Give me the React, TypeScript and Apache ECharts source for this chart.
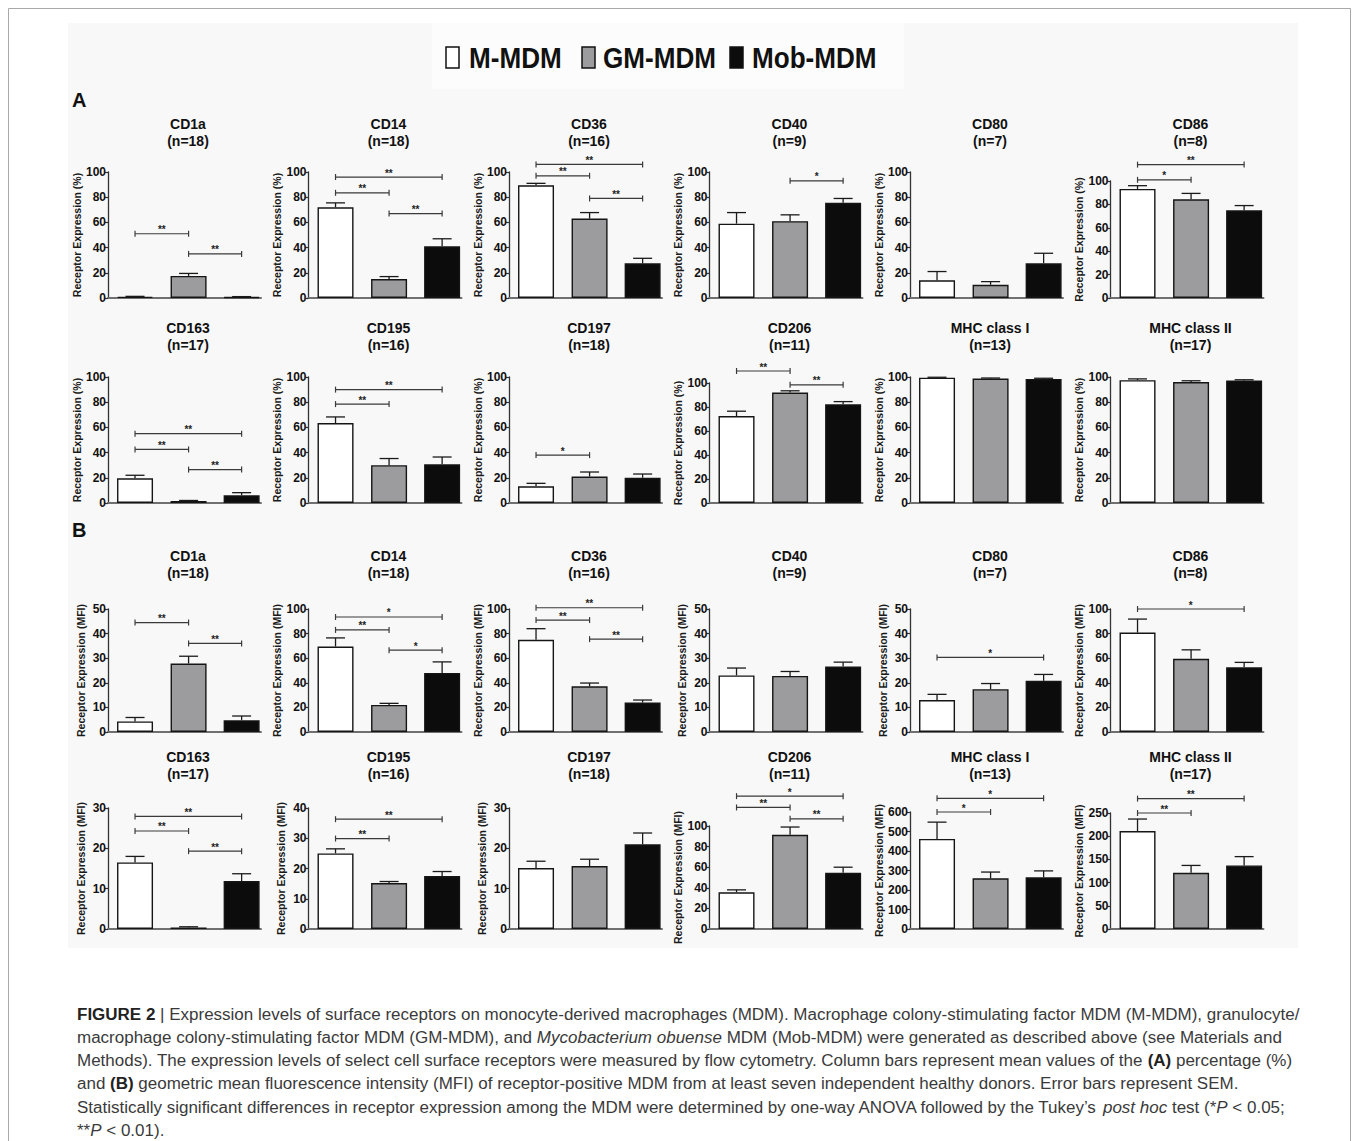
import React, { useEffect, useRef } from "react";
import * as echarts from "echarts";

// ---------------- data ----------------
const GROUPS = ["M-MDM", "GM-MDM", "Mob-MDM"];
const RECEPTORS = ["CD1a", "CD14", "CD36", "CD40", "CD80", "CD86", "CD163", "CD195", "CD197", "CD206", "MHC class I", "MHC class II"];
const DONORS = [18, 18, 16, 9, 7, 8, 17, 16, 18, 11, 13, 17];

// (A) percentage of receptor-positive MDM
const PCT_MEAN = [
  [1.0, 17.5, 0.8],
  [72, 15, 41],
  [89.5, 63, 27.5],
  [59, 61, 75.5],
  [14, 10.5, 27.5],
  [93.2, 84.4, 75],
  [19.6, 1.5, 6.2],
  [63.5, 30, 30.7],
  [13.2, 21, 20],
  [72.5, 92, 82.3],
  [99.5, 98.8, 98.5],
  [97.5, 96, 97.3],
];
const PCT_SEM = [
  [0.3, 2.0, 0.3],
  [3.5, 2, 6],
  [1.5, 4.8, 4],
  [8.8, 5, 3.5],
  [7, 2.5, 8],
  [2.8, 5, 4],
  [2.4, 0.5, 2],
  [4.8, 5.3, 5.8],
  [2.4, 3.6, 3],
  [4, 1.5, 2.2],
  [0.3, 0.4, 0.5],
  [1, 1, 0.5],
];
const PCT_MAX = [100, 100, 100, 100, 100, 100, 100, 100, 100, 100, 100, 100];
const PCT_STEP = [20, 20, 20, 20, 20, 20, 20, 20, 20, 20, 20, 20];

// (B) geometric MFI
const MFI_MEAN = [
  [4.3, 27.8, 4.8],
  [69.5, 22, 48],
  [75, 37.2, 24],
  [23, 22.8, 26.6],
  [13, 17.4, 20.8],
  [80.8, 59.5, 52.6],
  [16.5, 0.4, 11.9],
  [25, 15.2, 17.5],
  [15.1, 15.6, 21],
  [35.7, 91.5, 54.5],
  [462, 260, 265],
  [211, 121, 137],
];
const MFI_SEM = [
  [1.6, 3, 1.7],
  [7, 1.3, 9],
  [9, 2.6, 2],
  [3, 1.8, 1.8],
  [2.3, 2.3, 2.6],
  [11, 7.3, 4],
  [1.5, 0.15, 1.8],
  [1.5, 0.5, 1.5],
  [1.7, 1.7, 2.8],
  [2.3, 7.5, 5.5],
  [86, 32, 33],
  [26, 16, 19],
];
const MFI_MAX = [50, 100, 100, 50, 50, 100, 30, 40, 30, 100, 600, 250];
const MFI_STEP = [10, 20, 20, 10, 10, 20, 10, 10, 10, 20, 100, 50];

// significance brackets: [fromGroup, toGroup, level (axis units), label]
const PCT_SIG: Array<Array<[number, number, number, string]>> = [
  [[0, 1, 51, "**"], [1, 2, 35, "**"]],
  [[0, 2, 96, "**"], [0, 1, 83.5, "**"], [1, 2, 67, "**"]],
  [[0, 2, 106, "**"], [0, 1, 97, "**"], [1, 2, 79, "**"]],
  [[1, 2, 93, "*"]],
  [],
  [[0, 2, 114, "**"], [0, 1, 101, "*"]],
  [[0, 2, 55, "**"], [0, 1, 42.5, "**"], [1, 2, 26.5, "**"]],
  [[0, 2, 90, "**"], [0, 1, 78.5, "**"]],
  [[0, 1, 38, "*"]],
  [[0, 1, 110, "**"], [1, 2, 98.5, "**"]],
  [],
  [],
];
const MFI_SIG: Array<Array<[number, number, number, string]>> = [
  [[0, 1, 44.5, "**"], [1, 2, 36, "**"]],
  [[0, 2, 93.5, "*"], [0, 1, 83, "**"], [1, 2, 66.5, "*"]],
  [[0, 2, 101, "**"], [0, 1, 91, "**"], [1, 2, 75.5, "**"]],
  [],
  [[0, 2, 30.3, "*"]],
  [[0, 2, 100, "*"]],
  [[0, 2, 27.9, "**"], [0, 1, 24.3, "**"], [1, 2, 19.3, "**"]],
  [[0, 2, 36.3, "**"], [0, 1, 29.9, "**"]],
  [],
  [[0, 2, 129, "*"], [0, 1, 118, "**"], [1, 2, 107, "**"]],
  [[0, 2, 670, "*"], [0, 1, 600, "*"]],
  [[0, 2, 281, "**"], [0, 1, 250, "**"]],
];

// ---------------- layout / style ----------------
const FONT = "'Liberation Sans', Arial, Helvetica, sans-serif";
const GROUP_COLORS = ["#ffffff", "#9c9c9e", "#0c0c0c"];
const POS = [0.53, 1.58, 2.62];
const COL_X0 = 108;
const COL_PITCH = 200.5;
const PLOT_W = 153;
const ROWS = [
  { bottom: 298, height: 126, titleY: 124 },
  { bottom: 503, height: 126, titleY: 328 },
  { bottom: 732, height: 123, titleY: 556 },
  { bottom: 929, height: 121, titleY: 757 },
];
const HEIGHT_OVERRIDE: Record<string, number> = { "0-5": 117, "1-3": 120, "3-3": 103, "3-4": 117, "3-5": 116 };

type Seg = [string, "n" | "b" | "i"];
const CAPTION: Seg[][] = [
  [["FIGURE 2", "b"], [" | Expression levels of surface receptors on monocyte-derived macrophages (MDM). Macrophage colony-stimulating factor MDM (M-MDM), granulocyte/", "n"]],
  [["macrophage colony-stimulating factor MDM (GM-MDM), and ", "n"], ["Mycobacterium obuense", "i"], [" MDM (Mob-MDM) were generated as described above (see Materials and", "n"]],
  [["Methods). The expression levels of select cell surface receptors were measured by flow cytometry. Column bars represent mean values of the ", "n"], ["(A)", "b"], [" percentage (%)", "n"]],
  [["and ", "n"], ["(B)", "b"], [" geometric mean fluorescence intensity (MFI) of receptor-positive MDM from at least seven independent healthy donors. Error bars represent SEM.", "n"]],
  [["Statistically significant differences in receptor expression among the MDM were determined by one-way ANOVA followed by the Tukey\u2019s ", "n"], ["post hoc", "i"], [" test (*", "n"], ["P", "i"], [" < 0.05;", "n"]],
  [["**", "n"], ["P", "i"], [" < 0.01).", "n"]],
];
const CAP_SIZE = 16;

function measureLine(line: Seg[]): number {
  const ctx = document.createElement("canvas").getContext("2d");
  if (!ctx) return 1000;
  let w = 0;
  for (const [t, s] of line) {
    ctx.font = `${s === "i" ? "italic " : ""}${s === "b" ? "bold " : ""}${CAP_SIZE}px ${FONT}`;
    w += ctx.measureText(t).width;
  }
  return w;
}

function txt(extra: any) {
  return { align: "left", verticalAlign: "middle", textAlign: "left", textVerticalAlign: "middle", ...extra };
}

function buildOption() {
  const grid: any[] = [];
  const xAxis: any[] = [];
  const yAxis: any[] = [];
  const series: any[] = [];
  const graphic: any[] = [];

  for (let r = 0; r < 4; r++) {
    const isPct = r < 2;
    for (let c = 0; c < 6; c++) {
      const p = (r % 2) * 6 + c;
      const k = r * 6 + c;
      const row = ROWS[r];
      const h = HEIGHT_OVERRIDE[`${r}-${c}`] ?? row.height;
      const left = COL_X0 + c * COL_PITCH;
      const means = isPct ? PCT_MEAN[p] : MFI_MEAN[p];
      const sems = isPct ? PCT_SEM[p] : MFI_SEM[p];
      const sig = isPct ? PCT_SIG[p] : MFI_SIG[p];
      grid.push({ left, top: row.bottom - h, width: PLOT_W, height: h });
      xAxis.push({
        gridIndex: k, type: "value", min: 0, max: 3,
        axisLine: { show: true, lineStyle: { color: "#707070", width: 2 } },
        axisTick: { show: false }, axisLabel: { show: false }, splitLine: { show: false },
      });
      yAxis.push({
        gridIndex: k, type: "value", min: 0,
        max: isPct ? PCT_MAX[p] : MFI_MAX[p],
        interval: isPct ? PCT_STEP[p] : MFI_STEP[p],
        axisLine: { show: true, lineStyle: { color: "#333", width: 1.3 } },
        axisTick: { show: true, length: 3, lineStyle: { color: "#333", width: 1.2 } },
        axisLabel: { fontSize: 12, fontWeight: "bold", color: "#111", margin: 2, fontFamily: FONT },
        splitLine: { show: false },
        name: isPct ? "Receptor Expression (%)" : "Receptor Expression (MFI)",
        nameLocation: "middle", nameGap: 22,
        nameTextStyle: { fontSize: 10.5, fontWeight: "bold", color: "#1a1a1a", fontFamily: FONT },
      });
      series.push({
        type: "bar", xAxisIndex: k, yAxisIndex: k, barWidth: 36, silent: true,
        data: means.map((v, g) => ({
          value: [POS[g], v],
          itemStyle: { color: GROUP_COLORS[g], borderColor: "#151515", borderWidth: 1.4 },
        })),
      });
      series.push({
        type: "custom", xAxisIndex: k, yAxisIndex: k, silent: true, z: 3,
        encode: { x: 0, y: 1 },
        data: means.map((v, g) => [POS[g], v, sems[g]]),
        renderItem: (params: any, api: any) => {
          const x = api.value(0), m = api.value(1), s = api.value(2);
          const a = api.coord([x, m]);
          const b = api.coord([x, m + s]);
          const st = { stroke: "#1a1a1a", lineWidth: 1.3 };
          return {
            type: "group",
            children: [
              { type: "line", shape: { x1: a[0], y1: a[1], x2: b[0], y2: b[1] }, style: st },
              { type: "line", shape: { x1: b[0] - 9.5, y1: b[1], x2: b[0] + 9.5, y2: b[1] }, style: st },
            ],
          };
        },
      });
      if (sig.length) {
        series.push({
          type: "custom", xAxisIndex: k, yAxisIndex: k, silent: true, z: 4, clip: false,
          encode: { x: [0, 1], y: 2 },
          data: sig.map((s) => [POS[s[0]], POS[s[1]], s[2]]),
          renderItem: (params: any, api: any) => {
            const a = api.coord([api.value(0), api.value(2)]);
            const b = api.coord([api.value(1), api.value(2)]);
            const lbl = sig[params.dataIndex][3];
            const st = { stroke: "#3a3a3a", lineWidth: 1.2 };
            return {
              type: "group",
              children: [
                { type: "line", shape: { x1: a[0], y1: a[1], x2: b[0], y2: b[1] }, style: st },
                { type: "line", shape: { x1: a[0], y1: a[1] - 3, x2: a[0], y2: a[1] + 3 }, style: st },
                { type: "line", shape: { x1: b[0], y1: b[1] - 3, x2: b[0], y2: b[1] + 3 }, style: st },
                {
                  type: "text", x: (a[0] + b[0]) / 2, y: a[1] + 1,
                  style: {
                    legacy: false,
                    text: lbl, fontSize: 10, fontWeight: "bold", fontFamily: FONT,
                    fill: "#222",
                    align: "center", verticalAlign: "bottom",
                  },
                },
              ],
            };
          },
        });
      }
      graphic.push({
        type: "text", x: left + 80, y: row.titleY - 8.5, z: 10,
        style: {
          text: `${RECEPTORS[p]}\n(n=${DONORS[p]})`, fontSize: 14, fontWeight: "bold", fontFamily: FONT,
          fill: "#111", lineHeight: 17, align: "center", verticalAlign: "top",
          textAlign: "center", textVerticalAlign: "top",
        },
      });
    }
  }

  // frame & background
  graphic.push({ type: "rect", z: -5, shape: { x: 8.5, y: 8.5, width: 1342, height: 1200 }, style: { fill: "#ffffff", stroke: "#a8a8a8", lineWidth: 1 } });
  graphic.push({ type: "rect", z: -4, shape: { x: 68, y: 23, width: 1230, height: 925 }, style: { fill: "#f8f8f8" } });
  graphic.push({ type: "rect", z: -3, shape: { x: 432, y: 23, width: 472, height: 66 }, style: { fill: "#fcfcfc" } });

  // legend
  const legendBoxes = [446, 582, 730];
  const legendText = [469, 603, 752];
  GROUPS.forEach((g, i) => {
    graphic.push({ type: "rect", z: 10, shape: { x: legendBoxes[i], y: 47, width: 13, height: 21 }, style: { fill: GROUP_COLORS[i], stroke: "#111", lineWidth: 1.5 } });
    graphic.push({
      type: "text", z: 10, x: legendText[i], y: 58, scaleX: 0.9,
      style: txt({ text: g, fontSize: 29, fontWeight: "bold", fontFamily: FONT, fill: "#111" }),
    });
  });

  // panel letters
  [["A", 100], ["B", 530]].forEach(([t, y]) => {
    graphic.push({
      type: "text", z: 10, x: 72, y: y as number,
      style: txt({ text: t as string, fontSize: 20, fontWeight: "bold", fontFamily: FONT, fill: "#111" }),
    });
  });

  // caption (one common horizontal compression so the first line spans the figure width)
  const sx = (1300 - 77) / measureLine(CAPTION[0]);
  const rich = {
    b: { fontSize: CAP_SIZE, fontWeight: "bold", fontFamily: FONT, fill: "#222", textFill: "#222" },
    i: { fontSize: CAP_SIZE, fontStyle: "italic", fontFamily: FONT, fill: "#3a3a3a", textFill: "#3a3a3a" },
  };
  CAPTION.forEach((line, i) => {
    const text = line.map(([t, s]) => (s === "n" ? t : `{${s}|${t}}`)).join("");
    graphic.push({
      type: "text", z: 10, x: 77, y: 1014 + i * 23.2, scaleX: sx,
      style: txt({ text, rich, fontSize: CAP_SIZE, fontFamily: FONT, fill: "#3a3a3a" }),
    });
  });

  return {
    animation: false,
    backgroundColor: "#ffffff",
    textStyle: { fontFamily: FONT },
    grid, xAxis, yAxis, series, graphic,
  };
}

export default function App() {
  const ref = useRef<HTMLDivElement>(null);
  useEffect(() => {
    if (!ref.current) return;
    const chart = echarts.init(ref.current, undefined, { renderer: "svg" });
    chart.setOption(buildOption() as any);
    return () => chart.dispose();
  }, []);
  return (
    <div
      ref={ref}
      style={{ position: "absolute", left: 0, top: 0, width: 1359, height: 1141, background: "#fff" }}
    />
  );
}
